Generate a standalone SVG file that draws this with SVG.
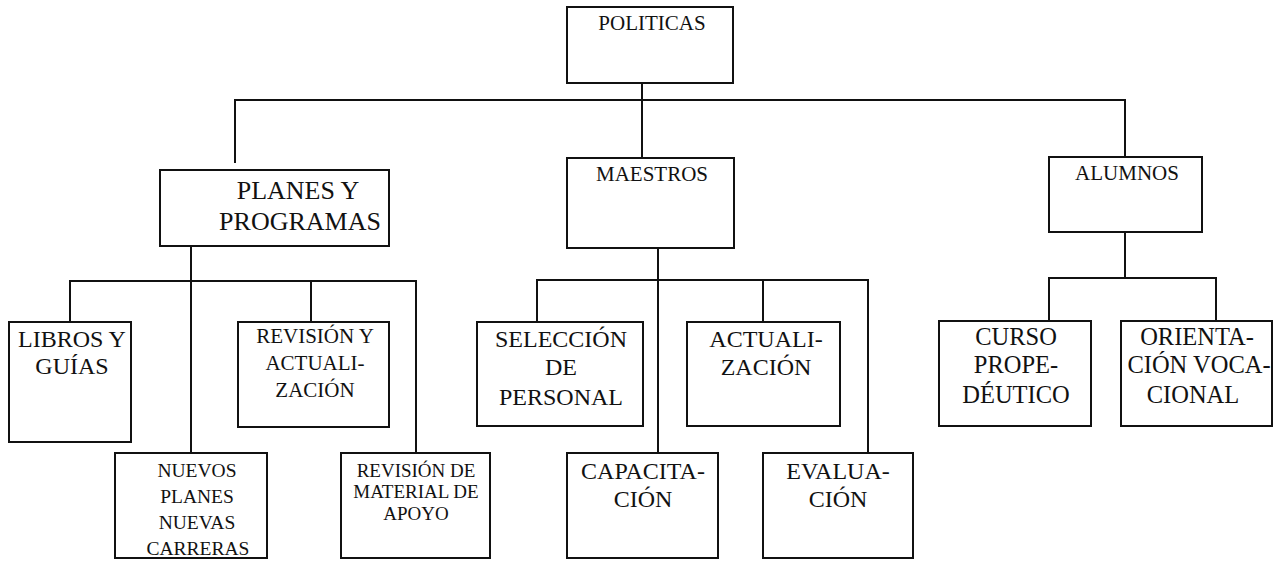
<svg xmlns="http://www.w3.org/2000/svg" width="1283" height="561" viewBox="0 0 1283 561" xml:lang="es">
<rect width="1283" height="561" fill="#fff"/>
<g id="connectors" fill="none" stroke="#111" stroke-width="2">
<path d="M642 83V158"/>
<path d="M235 163V100H1125V157"/>
<path d="M191 246V453"/>
<path d="M70 322V281H416V453"/>
<path d="M311 281V322"/>
<path d="M658 248V453"/>
<path d="M537 322V280H868V453"/>
<path d="M763 280V322"/>
<path d="M1125 232V278"/>
<path d="M1049 321V278H1216V321"/>
</g>
<g id="nodes" font-family="Times New Roman, Liberation Serif, serif" fill="#111" text-anchor="middle">
<g id="politicas"><rect fill="#fff" stroke="#111" stroke-width="2" x="567" y="7" width="166" height="76"/><text font-size="21" x="652" y="30">POLITICAS</text></g>
<g id="planes"><rect fill="#fff" stroke="#111" stroke-width="2" x="160" y="170" width="229" height="76"/><text font-size="26" x="298" y="199">PLANES Y</text><text font-size="26" x="300" y="230">PROGRAMAS</text></g>
<g id="maestros"><rect fill="#fff" stroke="#111" stroke-width="2" x="567" y="158" width="167" height="90"/><text font-size="21" x="652" y="181">MAESTROS</text></g>
<g id="alumnos"><rect fill="#fff" stroke="#111" stroke-width="2" x="1049" y="157" width="153" height="75"/><text font-size="21" x="1127" y="180">ALUMNOS</text></g>
<g id="libros"><rect fill="#fff" stroke="#111" stroke-width="2" x="9" y="322" width="122" height="120"/><text font-size="24" x="72" y="347">LIBROS Y</text><text font-size="24" x="72" y="374">GUÍAS</text></g>
<g id="revision"><rect fill="#fff" stroke="#111" stroke-width="2" x="238" y="322" width="151" height="105"/><text font-size="21" x="315" y="343">REVISIÓN Y</text><text font-size="21" x="315" y="370">ACTUALI-</text><text font-size="21" x="315" y="397">ZACIÓN</text></g>
<g id="nuevos"><rect fill="#fff" stroke="#111" stroke-width="2" x="115" y="453" width="152" height="105"/><text font-size="19.5" x="197" y="477">NUEVOS</text><text font-size="19.5" x="197" y="503">PLANES</text><text font-size="19.5" x="197" y="529">NUEVAS</text><text font-size="19.5" x="198" y="555">CARRERAS</text></g>
<g id="material"><rect fill="#fff" stroke="#111" stroke-width="2" x="341" y="453" width="149" height="105"/><text font-size="19" x="416" y="477">REVISIÓN DE</text><text font-size="19" x="416" y="498">MATERIAL DE</text><text font-size="19" x="416" y="520">APOYO</text></g>
<g id="seleccion"><rect fill="#fff" stroke="#111" stroke-width="2" x="477" y="322" width="166" height="104"/><text font-size="24" x="561" y="347">SELECCIÓN</text><text font-size="24" x="561" y="375">DE</text><text font-size="24" x="561" y="405">PERSONAL</text></g>
<g id="actualizacion"><rect fill="#fff" stroke="#111" stroke-width="2" x="687" y="322" width="153" height="104"/><text font-size="24" x="766" y="347">ACTUALI-</text><text font-size="24" x="766" y="375">ZACIÓN</text></g>
<g id="capacitacion"><rect fill="#fff" stroke="#111" stroke-width="2" x="567" y="453" width="151" height="105"/><text font-size="24" x="643" y="479">CAPACITA-</text><text font-size="24" x="643" y="507">CIÓN</text></g>
<g id="evaluacion"><rect fill="#fff" stroke="#111" stroke-width="2" x="763" y="453" width="150" height="105"/><text font-size="24" x="838" y="479">EVALUA-</text><text font-size="24" x="838" y="507">CIÓN</text></g>
<g id="curso"><rect fill="#fff" stroke="#111" stroke-width="2" x="939" y="321" width="152" height="105"/><text font-size="24.5" x="1016" y="345">CURSO</text><text font-size="24.5" x="1016" y="373">PROPE-</text><text font-size="24.5" x="1016" y="403">DÉUTICO</text></g>
<g id="orientacion"><rect fill="#fff" stroke="#111" stroke-width="2" x="1121" y="321" width="151" height="105"/><text font-size="24.5" x="1197" y="345">ORIENTA-</text><text font-size="24.5" x="1199" y="373">CIÓN VOCA-</text><text font-size="24.5" x="1193" y="403">CIONAL</text></g>
</g>
</svg>
